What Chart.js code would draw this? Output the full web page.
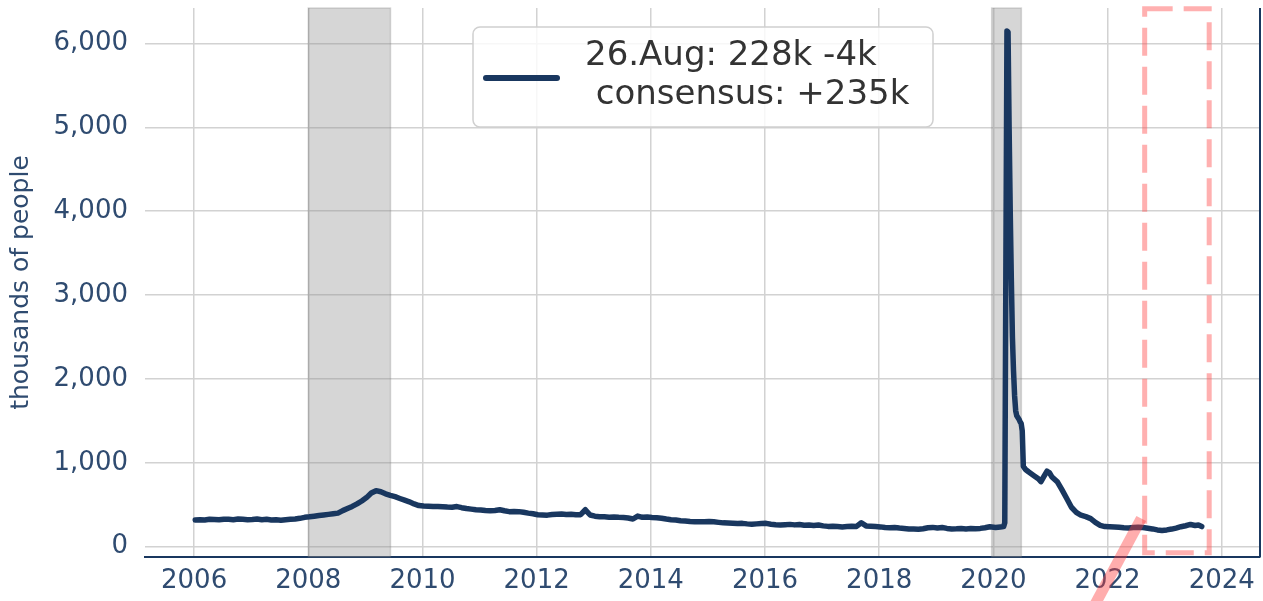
<!DOCTYPE html>
<html>
<head>
<meta charset="utf-8">
<script src="https://cdn.jsdelivr.net/npm/chart.js@4"></script>
<style>
    html, body { margin: 0; padding: 0; background: #fff; }
</style>
</head>
<body>
<canvas id="claimsChart" width="1263" height="601"></canvas>
<script>
// Initial jobless claims, thousands of people

// monthly readings 2006-01 .. 2019-12
const monthlyStartYear = 2006;
const monthlyClaims = [
    318, 322, 318, 326, 324, 320, 328, 326, 322, 330, 326, 322,   // 2006
    324, 330, 322, 326, 318, 320, 316, 322, 326, 330, 338, 350,   // 2007
    356, 364, 372, 378, 385, 392, 400, 430, 455, 480, 510, 545,   // 2008
    585, 640, 668, 655, 630, 612, 596, 575, 555, 535, 510, 490,   // 2009
    485, 482, 478, 480, 476, 472, 470, 478, 465, 455, 448, 440,   // 2010
    438, 432, 428, 432, 440, 428, 418, 420, 418, 410, 400, 392,   // 2011
    380, 378, 376, 384, 388, 390, 384, 386, 380, 382, 440, 378,   // 2012
    364, 358, 356, 352, 354, 350, 348, 342, 330, 365, 350, 354,   // 2013
    348, 346, 340, 330, 322, 318, 310, 306, 300, 296, 298, 296,   // 2014
    300, 296, 290, 284, 282, 280, 276, 278, 272, 268, 272, 276,   // 2015
    278, 268, 262, 258, 262, 266, 260, 264, 256, 258, 252, 258,   // 2016
    248, 242, 244, 240, 236, 240, 244, 242, 285, 248, 244, 240,   // 2017
    236, 228, 226, 228, 222, 218, 212, 210, 208, 214, 226, 230,   // 2018
    222, 228, 218, 212, 214, 218, 212, 216, 214, 218, 226, 238    // 2019
];

// weekly / irregular readings from 2020 on
const recentDates = [
    '2020-01-15', '2020-02-15', '2020-03-07', '2020-03-14', '2020-03-21', '2020-03-28',
    '2020-04-04', '2020-04-11', '2020-04-18', '2020-04-25', '2020-05-02', '2020-05-09',
    '2020-05-16', '2020-05-23', '2020-05-30', '2020-06-13', '2020-06-20', '2020-06-27',
    '2020-07-04', '2020-07-11', '2020-07-25', '2020-08-15', '2020-09-15', '2020-10-15',
    '2020-11-01', '2020-11-21', '2020-12-10', '2020-12-26', '2021-01-09', '2021-02-15',
    '2021-03-15', '2021-04-15', '2021-05-15', '2021-06-15', '2021-07-15', '2021-08-15',
    '2021-09-15', '2021-10-15', '2021-11-15', '2021-12-15', '2022-01-15', '2022-02-15',
    '2022-03-15', '2022-04-15', '2022-05-15', '2022-06-15', '2022-07-15', '2022-08-15',
    '2022-09-15', '2022-10-15', '2022-11-15', '2022-12-15', '2023-01-15', '2023-02-15',
    '2023-03-15', '2023-04-15', '2023-05-15', '2023-06-15', '2023-07-15', '2023-08-05',
    '2023-08-26'
];
const recentClaims = [
    230, 236, 240, 285, 3307, 6149,
    6137, 4976, 4000, 3200, 2500, 2100,
    1800, 1620, 1560, 1520, 1490, 1470,
    1380, 960, 920, 890, 850, 810,
    775, 840, 900, 880, 835, 770,
    680, 575, 470, 410, 375, 358,
    335, 290, 255, 240, 238, 236,
    232, 226, 224, 228, 232, 228,
    220, 212, 200, 194, 200, 210,
    222, 238, 250, 265, 252, 258,
    240
];

const xTickYears = [2006, 2008, 2010, 2012, 2014, 2016, 2018, 2020, 2022, 2024];
const yTicks = [0, 1000, 2000, 3000, 4000, 5000, 6000];

// NBER recessions (start, end) as decimal years
const recessions = [[2008.0, 2009.44], [2019.97, 2020.49]];

// highlighted window and the pointer into it
const focusWindow = { from: 2022.65, to: 2023.78, low: -72, high: 6415 };
const pointerFrom = [2021.35, -1232];
const pointerTo = [2022.59, 336];

const legendLines = ['26.Aug: 228k -4k', ' consensus: +235k'];

const NAVY = '#19375f';
const TICK_COLOR = '#2f4b70';
const FONT = "'DejaVu Sans', sans-serif";

function toDecimalYear(str) {
    const d = new Date(str + 'T00:00:00Z');
    const y = d.getUTCFullYear();
    const start = Date.UTC(y, 0, 1);
    const end = Date.UTC(y + 1, 0, 1);
    return y + (d.getTime() - start) / (end - start);
}

const points = [];
monthlyClaims.forEach((v, i) => {
    points.push({ x: monthlyStartYear + i / 12 + 0.02, y: v });
});
recentDates.forEach((d, i) => {
    points.push({ x: toDecimalYear(d), y: recentClaims[i] });
});

const recessionShading = {
    id: 'recessionShading',
    beforeDatasetsDraw(chart) {
        const { ctx, chartArea: a, scales: { x } } = chart;
        ctx.save();
        recessions.forEach(([s, e]) => {
            const x0 = x.getPixelForValue(s);
            const x1 = x.getPixelForValue(e);
            ctx.fillStyle = 'rgba(140,140,140,0.36)';
            ctx.fillRect(x0, a.top, x1 - x0, a.bottom - a.top);
            ctx.strokeStyle = 'rgba(110,110,110,0.25)';
            ctx.lineWidth = 1.5;
            ctx.strokeRect(x0, a.top, x1 - x0, a.bottom - a.top);
        });
        ctx.restore();
    }
};

const overlays = {
    id: 'overlays',
    afterDatasetsDraw(chart) {
        const { ctx, chartArea: a, scales: { x, y } } = chart;
        ctx.save();

        // dashed window
        ctx.setLineDash([28, 11]);
        ctx.lineWidth = 5;
        ctx.strokeStyle = 'rgba(255,80,80,0.45)';
        const rx0 = x.getPixelForValue(focusWindow.from);
        const rx1 = x.getPixelForValue(focusWindow.to);
        const ry0 = y.getPixelForValue(focusWindow.high);
        const ry1 = y.getPixelForValue(focusWindow.low);
        ctx.strokeRect(rx0, ry0, rx1 - rx0, ry1 - ry0);

        // pointer
        ctx.setLineDash([]);
        ctx.lineWidth = 11;
        ctx.lineCap = 'butt';
        ctx.strokeStyle = 'rgba(255,60,60,0.42)';
        ctx.beginPath();
        ctx.moveTo(x.getPixelForValue(pointerFrom[0]), y.getPixelForValue(pointerFrom[1]));
        ctx.lineTo(x.getPixelForValue(pointerTo[0]), y.getPixelForValue(pointerTo[1]));
        ctx.stroke();

        // right spine
        ctx.lineWidth = 2;
        ctx.strokeStyle = NAVY;
        ctx.beginPath();
        ctx.moveTo(a.right, a.top);
        ctx.lineTo(a.right, a.bottom);
        ctx.stroke();
        ctx.restore();
    },
    afterDraw(chart) {
        const { ctx } = chart;
        const box = { x: 473, y: 27, w: 460, h: 100, r: 7 };
        ctx.save();
        ctx.beginPath();
        ctx.roundRect(box.x, box.y, box.w, box.h, box.r);
        ctx.fillStyle = 'rgba(255,255,255,0.82)';
        ctx.fill();
        ctx.lineWidth = 1.5;
        ctx.strokeStyle = '#d0d0d0';
        ctx.stroke();

        ctx.lineCap = 'round';
        ctx.lineWidth = 6;
        ctx.strokeStyle = NAVY;
        ctx.beginPath();
        ctx.moveTo(486, 78);
        ctx.lineTo(557, 78);
        ctx.stroke();

        ctx.fillStyle = '#333333';
        ctx.font = `34px ${FONT}`;
        ctx.textBaseline = 'alphabetic';
        ctx.textAlign = 'left';
        ctx.fillText(legendLines[0], 585, 65);
        ctx.fillText(legendLines[1], 585, 103.5);
        ctx.restore();
    }
};

new Chart(document.getElementById('claimsChart'), {
    type: 'line',
    data: {
        datasets: [{
            label: legendLines.join('\n'),
            data: points,
            borderColor: NAVY,
            borderWidth: 5.5,
            borderCapStyle: 'round',
            borderJoinStyle: 'round',
            pointRadius: 0,
            tension: 0,
            fill: false
        }]
    },
    options: {
        responsive: false,
        animation: false,
        layout: { padding: { top: 8, right: 3, left: 0, bottom: 0 } },
        plugins: {
            legend: { display: false },
            tooltip: { enabled: false }
        },
        scales: {
            x: {
                type: 'linear',
                min: 2005.14,
                max: 2024.67,
                afterBuildTicks: (scale) => {
                    scale.ticks = xTickYears.map(v => ({ value: v }));
                },
                afterFit: (scale) => {
                    scale.height = 44;
                    scale.paddingLeft = 0;
                    scale.paddingRight = 0;
                },
                ticks: {
                    color: TICK_COLOR,
                    font: { family: FONT, size: 26 },
                    padding: 9,
                    maxRotation: 0,
                    callback: (v) => String(v)
                },
                grid: { color: '#d2d2d2', lineWidth: 1.5, drawTicks: false },
                border: { display: true, color: NAVY, width: 2 }
            },
            y: {
                min: -123,
                max: 6423,
                afterBuildTicks: (scale) => {
                    scale.ticks = yTicks.map(v => ({ value: v }));
                },
                afterFit: (scale) => {
                    scale.width = 145;
                    scale.paddingTop = 0;
                    scale.paddingBottom = 0;
                },
                ticks: {
                    color: TICK_COLOR,
                    font: { family: FONT, size: 26 },
                    padding: 17,
                    callback: (v) => v.toLocaleString('en-US')
                },
                title: {
                    display: true,
                    text: 'thousands of people',
                    color: TICK_COLOR,
                    font: { family: FONT, size: 25 },
                    padding: { top: 6, bottom: 0 }
                },
                grid: { color: '#d2d2d2', lineWidth: 1.5, drawTicks: false },
                border: { display: false }
            }
        }
    },
    plugins: [recessionShading, overlays]
});
</script>
</body>
</html>
